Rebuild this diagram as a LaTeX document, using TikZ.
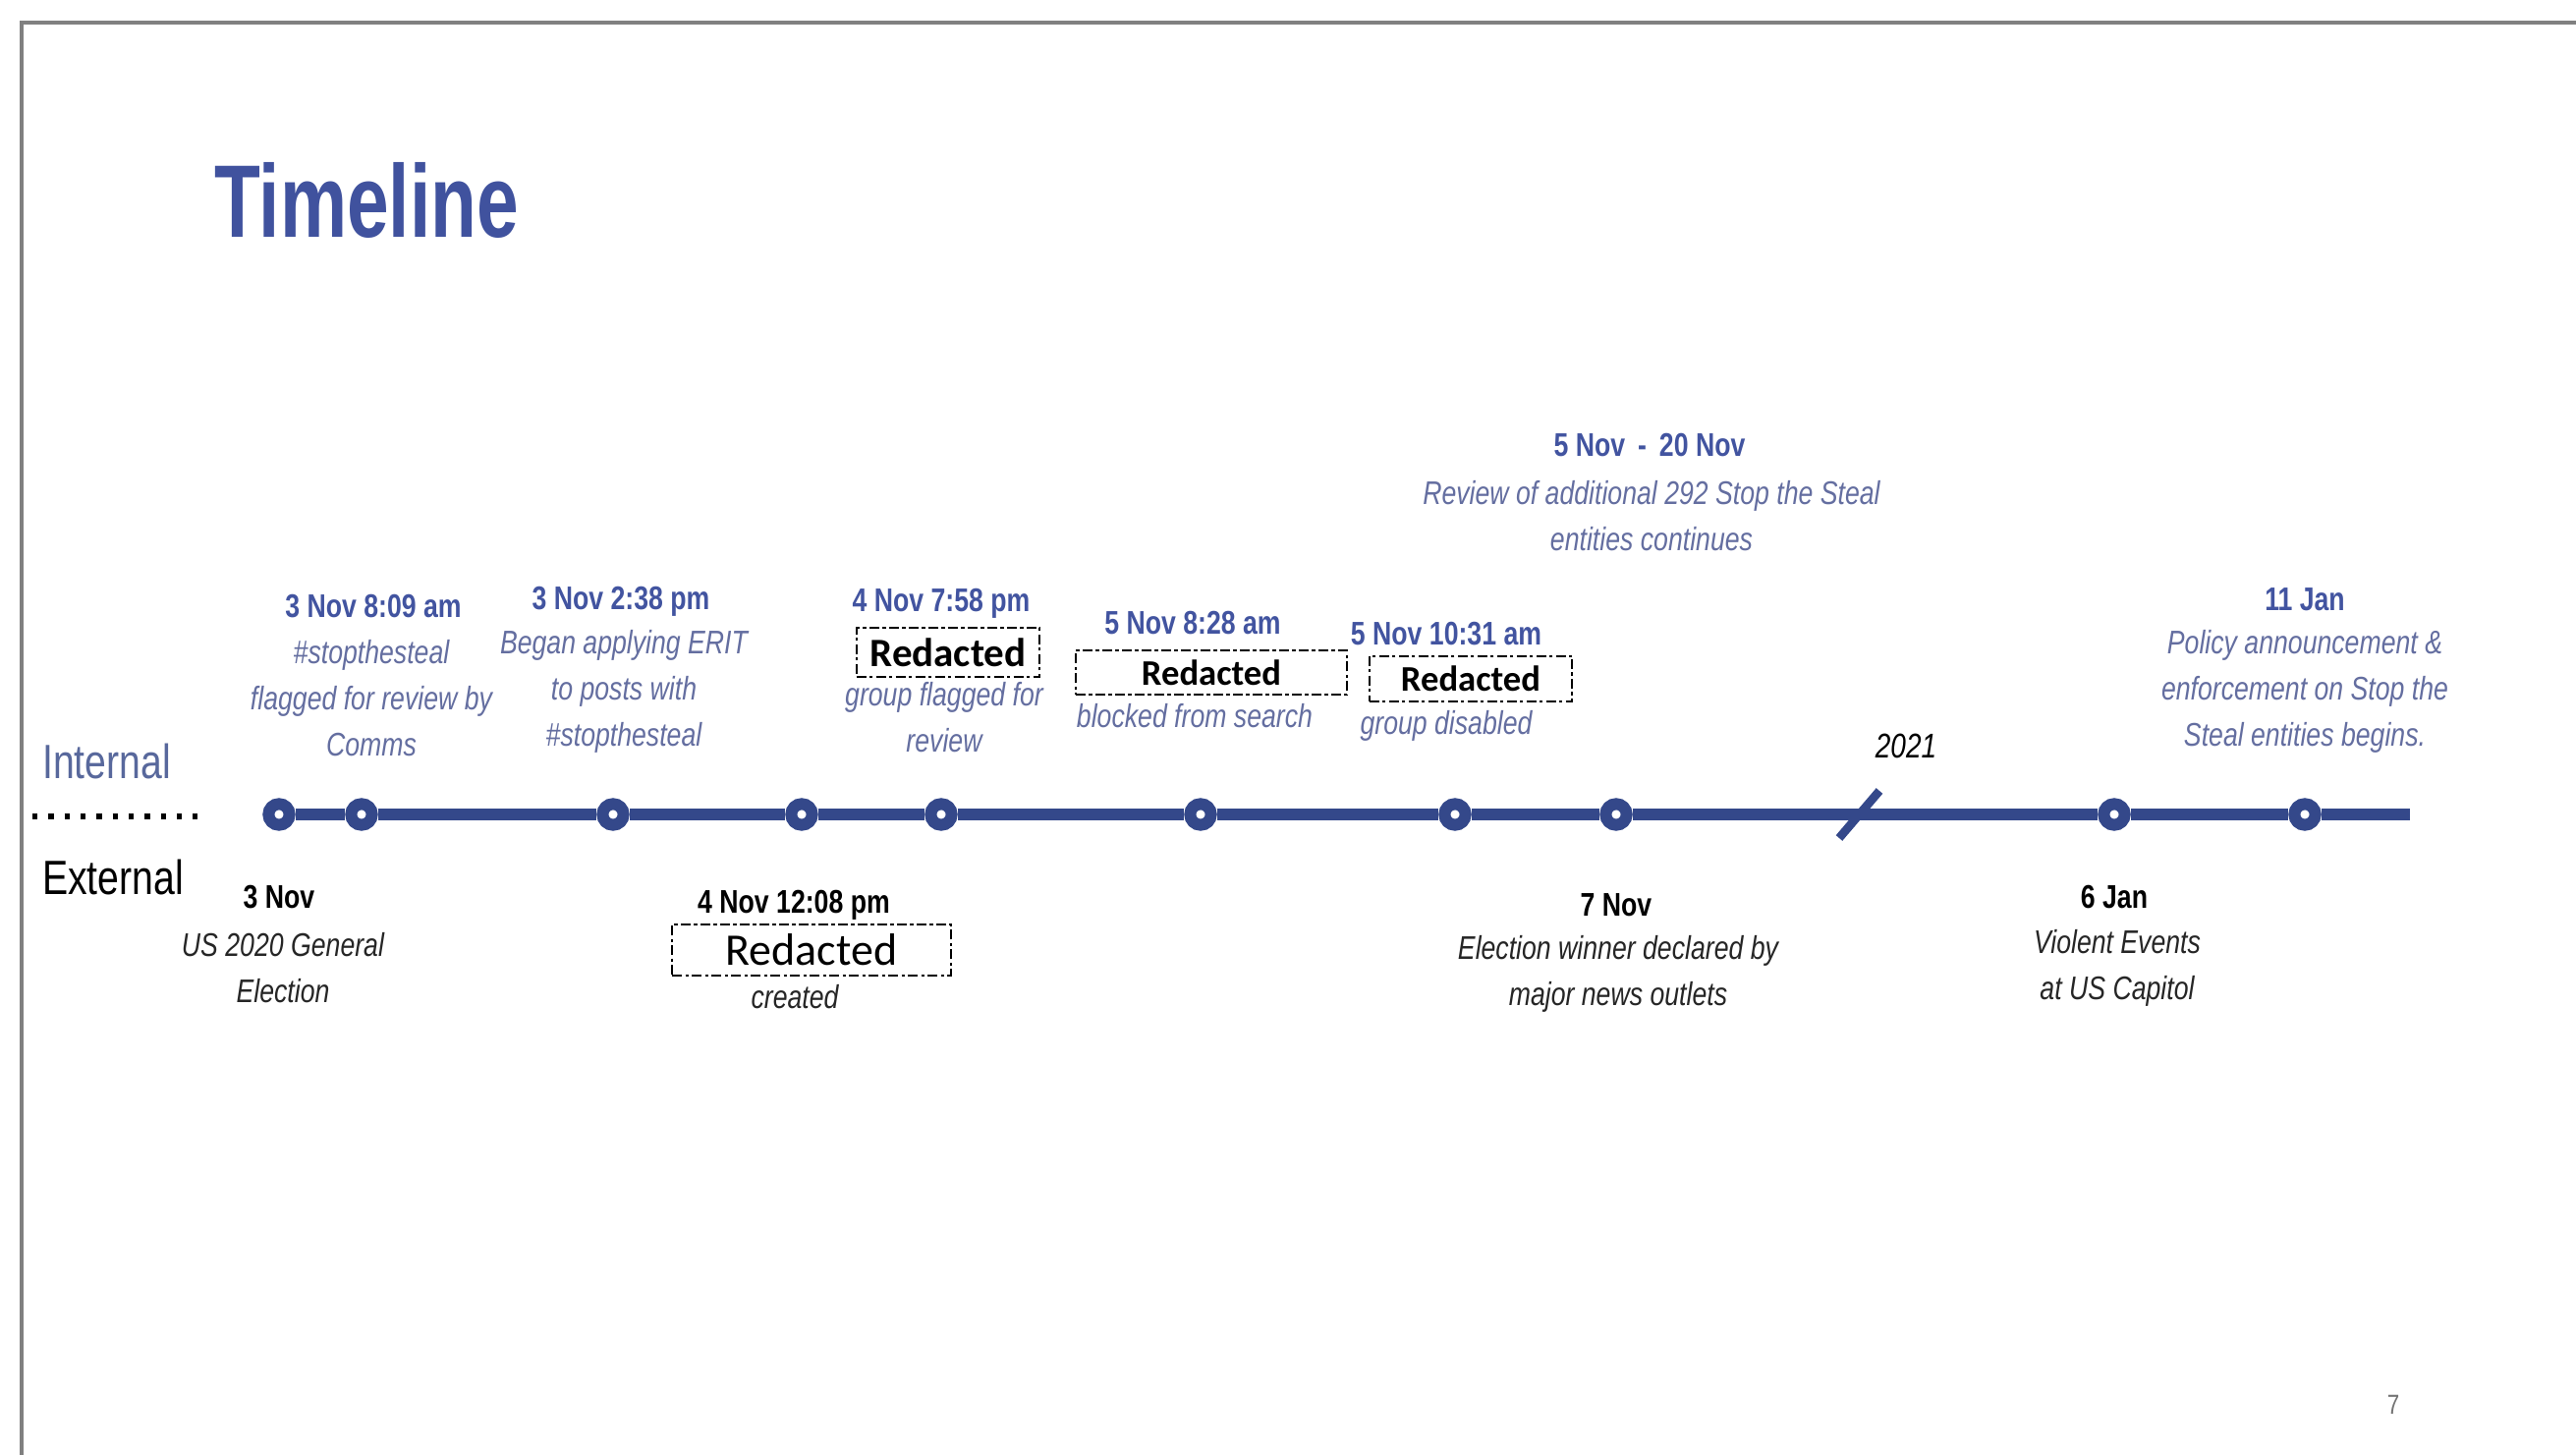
\documentclass[tikz,border=0pt]{standalone}
\usepackage{fontspec}
\setmainfont{Liberation Sans}
\newfontfamily\condfont[FakeStretch=0.8]{Liberation Sans}
\newfontfamily\titlefont[FakeStretch=0.73]{Liberation Sans}
\newfontfamily\boxfont{Carlito}
\usetikzlibrary{positioning}

\definecolor{lineblue}{RGB}{52,72,138}
\definecolor{titleblue}{RGB}{64,82,158}
\definecolor{dateblue}{RGB}{66,84,160}
\definecolor{noteblue}{RGB}{100,110,160}
\definecolor{sideblue}{RGB}{88,104,156}
\definecolor{framegrey}{RGB}{128,128,128}

\tikzset{every picture/.style={line width=0.75pt}}
\tikzset{
	evt/.style={circle,draw=lineblue,fill=white,line width=3.6pt,minimum size=6.4pt,inner sep=0pt},
	tline/.style={draw=lineblue,line width=3.6pt},
	slashline/.style={draw=lineblue,line width=2.6pt},
	sidelbl/.style={font=\condfont\fontsize{14.7}{17}\selectfont,inner sep=0pt},
	datein/.style={text=dateblue,font=\condfont\bfseries\fontsize{10}{12}\selectfont,inner sep=0pt},
	noteint/.style={text=noteblue,font=\condfont\itshape\fontsize{10}{14.1}\selectfont,align=center,inner sep=0pt},
	dateex/.style={text=black,font=\condfont\bfseries\fontsize{10}{12}\selectfont,inner sep=0pt},
	noteex/.style={text=black!85,font=\condfont\itshape\fontsize{10}{14.1}\selectfont,align=center,inner sep=0pt},
	redact/.style={draw,dash pattern=on 3pt off 1pt on 1pt off 1pt,line width=0.6pt,inner sep=0pt}
}

\begin{document}
\begin{tikzpicture}[x=0.3pt,y=0.3pt,yscale=-1]
	\useasboundingbox (0,0) rectangle (2622,1481);
	
	%Frame
	\draw[framegrey,line width=1.2pt] (2622,23) -- (22,23) -- (22,1481);
	
	%Title
	\node[anchor=base west,text=titleblue,font=\titlefont\bfseries\fontsize{31.5}{36}\selectfont,inner sep=0pt] (title) at (217,242) {Timeline};
	
	%Side labels and divider
	\node[sidelbl,text=sideblue,anchor=base west] (intl) at (42,793) {Internal};
	\node[sidelbl,anchor=base west] (extl) at (42,911) {External};
	\coordinate (dotl) at (33,831);
	\coordinate (dotr) at (201,831);
	\draw[line width=1.6pt,dash pattern=on 1.6pt off 3.3pt] (dotl) -- (dotr);
	
	%Event markers
	\node[evt] (c1) at (284,829) {};
	\node[evt] (c2) at (368,829) {};
	\node[evt] (c3) at (624,829) {};
	\node[evt] (c4) at (816,829) {};
	\node[evt] (c5) at (958,829) {};
	\node[evt] (c6) at (1222,829) {};
	\node[evt] (c7) at (1481,829) {};
	\node[evt] (c8) at (1645,829) {};
	\node[evt] (c9) at (2152,829) {};
	\node[evt] (c10) at (2346,829) {};
	\coordinate (tend) at (2453,829);
	
	%Timeline segments
	\draw[tline] (c1) -- (c2);
	\draw[tline] (c2) -- (c3);
	\draw[tline] (c3) -- (c4);
	\draw[tline] (c4) -- (c5);
	\draw[tline] (c5) -- (c6);
	\draw[tline] (c6) -- (c7);
	\draw[tline] (c7) -- (c8);
	\draw[tline] (c8) -- (c9);
	\draw[tline] (c9) -- (c10);
	\draw[tline] (c10) -- (tend);
	
	%Year break
	\draw[slashline] (1872,853) -- (1913,805);
	\node[noteex,text=black,font=\condfont\itshape\fontsize{10.5}{12}\selectfont] (yr) at (1940,759) {2021};
	
	% Internal: 3 Nov 8:09 am
	\node[datein] (d2) at (380,617) {3 Nov 8:09 am};
	\node[noteint] (n2) at (378,711) {\#stopthesteal\\flagged for review by\\Comms};
	
	% Internal: 3 Nov 2:38 pm
	\node[datein] (d3) at (632,612) {3 Nov 2:38 pm};
	\node[noteint] (n3) at (635,704) {Began applying ERIT\\to posts with\\\#stopthesteal};
	
	% Internal: 4 Nov 7:58 pm
	\node[datein] (d5) at (958,614) {4 Nov 7:58 pm};
	\node[redact,minimum width=56pt,minimum height=15pt,font=\boxfont\bfseries\fontsize{12.3}{14}\selectfont] (r5) at (965,664) {Redacted};
	\node[noteint] (n5) at (961,730) {group flagged for\\review};
	
	% Internal: 5 Nov 8:28 am
	\node[datein] (d6) at (1214,634) {5 Nov 8:28 am};
	\node[redact,minimum width=82.8pt,minimum height=13.5pt,font=\boxfont\bfseries\fontsize{11}{13}\selectfont] (r6) at (1233,685) {Redacted};
	\node[noteint] (n6) at (1216,729) {blocked from search};
	
	% Internal: 5 Nov 10:31 am
	\node[datein] (d7) at (1472,645) {5 Nov 10:31 am};
	\node[redact,minimum width=62pt,minimum height=14pt,font=\boxfont\bfseries\fontsize{11}{13}\selectfont] (r7) at (1497,691) {Redacted};
	\node[noteint] (n7) at (1472,739) {group disabled};
	
	% Internal: 5 Nov - 20 Nov
	\node[datein] (drange) at (1679,453) {5 Nov \,-\, 20 Nov};
	\node[noteint] (nrange) at (1681,525) {Review of additional 292 Stop the Steal\\entities continues};
	
	% Internal: 11 Jan
	\node[datein] (d10) at (2346,610) {11 Jan};
	\node[noteint] (n10) at (2346,704) {Policy announcement \&\\enforcement on Stop the\\Steal entities begins.};
	
	% External: 3 Nov
	\node[dateex] (d1) at (284,913) {3 Nov};
	\node[noteex] (n1) at (288,985) {US 2020 General\\Election};
	
	% External: 4 Nov 12:08 pm
	\node[dateex] (d4) at (808,921) {4 Nov 12:08 pm};
	\node[redact,minimum width=85pt,minimum height=15.6pt,font=\boxfont\fontsize{13.8}{16}\selectfont] (r4) at (826,967) {Redacted};
	\node[noteex] (n4) at (809,1015) {created};
	
	% External: 7 Nov
	\node[dateex] (d8) at (1645,921) {7 Nov};
	\node[noteex] (n8) at (1647,991) {Election winner declared by\\major news outlets};
	
	% External: 6 Jan
	\node[dateex] (d9) at (2152,913) {6 Jan};
	\node[noteex] (n9) at (2155,985) {Violent Events\\at US Capitol};
	
	%Page number
	\node[text=black!55,font=\condfont\fontsize{8.4}{10}\selectfont,inner sep=0pt] (pg) at (2436,1430) {7};
	
\end{tikzpicture}
\end{document}
